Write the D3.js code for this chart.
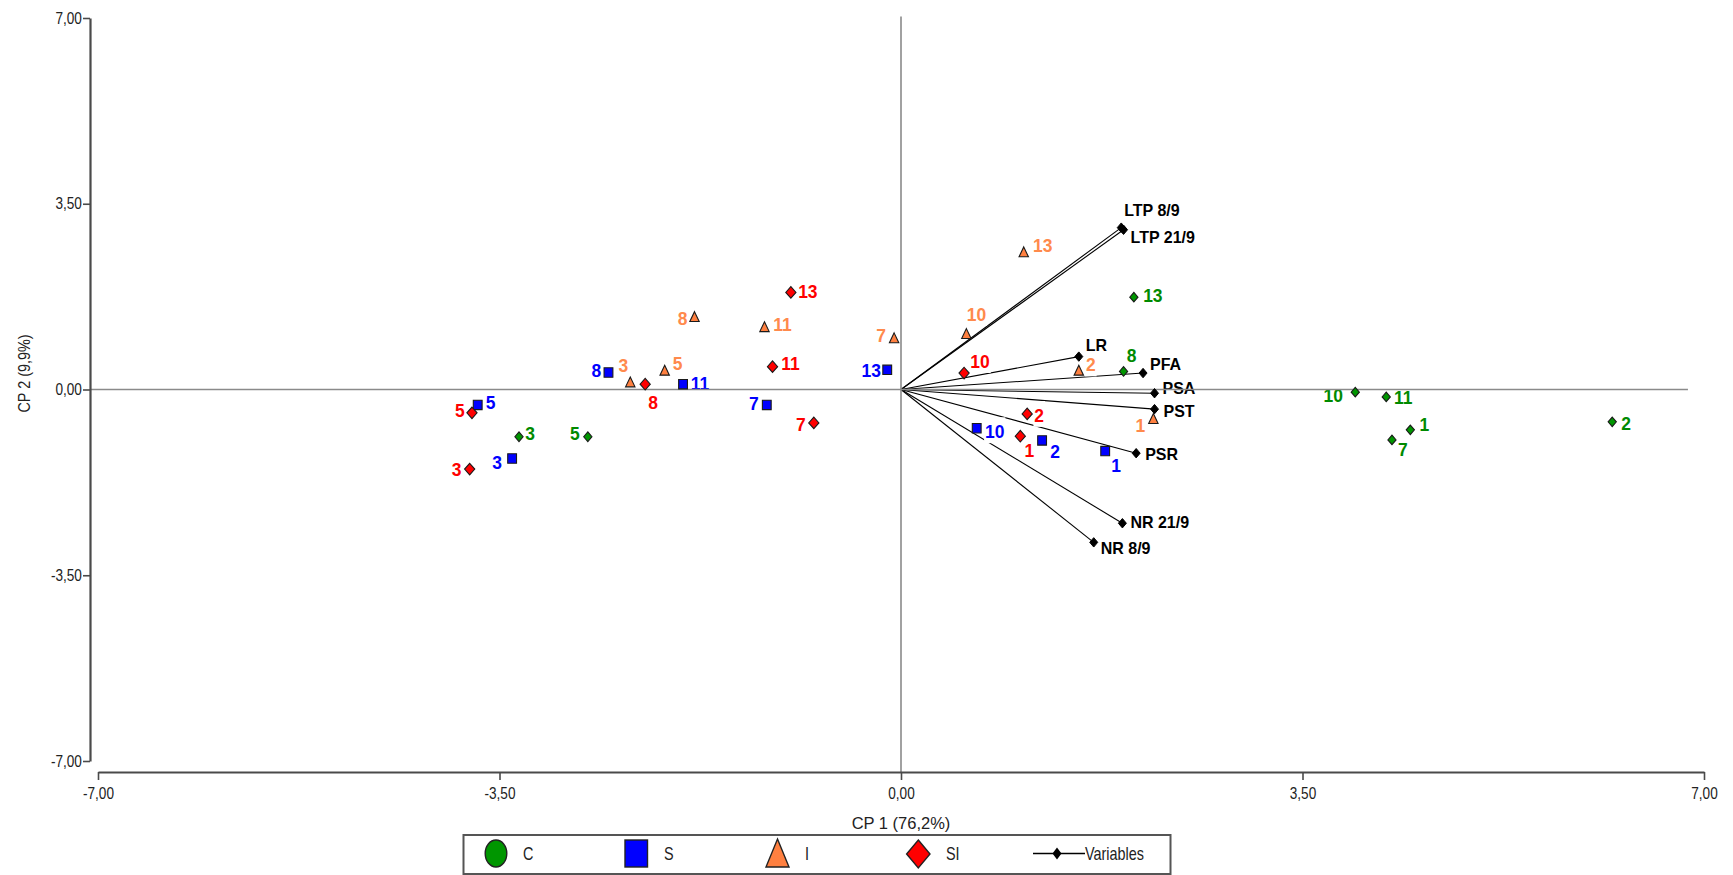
<!DOCTYPE html>
<html><head><meta charset="utf-8">
<script src="https://cdn.jsdelivr.net/npm/d3@7"></script>
<style>
html,body{margin:0;padding:0;background:#fff;}
svg{display:block;font-family:"Liberation Sans",Arial,sans-serif;}
</style>
</head><body>
<svg id="chart" width="1733" height="875"></svg>
<script>
// ---- data: principal component scores (CP 1, CP 2) ----
const sampleIds = [1, 2, 3, 5, 7, 8, 10, 11, 13];
const treatments = ["C", "S", "I", "SI"];

const cp1C  = [4.44, 6.20, -3.33, -2.73, 4.28, 1.94, 3.96, 4.23, 2.03];
const cp2C  = [-0.76, -0.61, -0.89, -0.89, -0.95, 0.34, -0.05, -0.14, 1.74];
const cp1S  = [1.78, 1.23, -3.39, -3.69, -1.17, -2.55, 0.66, -1.90, -0.12];
const cp2S  = [-1.16, -0.96, -1.30, -0.29, -0.29, 0.32, -0.73, 0.10, 0.37];
const cp1I  = [2.20, 1.55, -2.36, -2.06, -0.06, -1.80, 0.57, -1.19, 1.07];
const cp2I  = [-0.57, 0.34, 0.12, 0.34, 0.95, 1.35, 1.03, 1.16, 2.57];
const cp1SI = [1.04, 1.10, -3.76, -3.74, -0.76, -2.23, 0.55, -1.12, -0.96];
const cp2SI = [-0.88, -0.46, -1.50, -0.44, -0.63, 0.10, 0.31, 0.43, 1.83];

// variable loadings (biplot vectors)
const variableNames = ["LTP 8/9", "LTP 21/9", "LR", "PFA", "PSA", "PST", "PSR", "NR 21/9", "NR 8/9"];
const variableCP1 = [1.92, 1.94, 1.55, 2.11, 2.21, 2.21, 2.05, 1.93, 1.68];
const variableCP2 = [3.05, 3.01, 0.62, 0.31, -0.07, -0.37, -1.20, -2.52, -2.88];

const axisTicks = [-7, -3.5, 0, 3.5, 7];
const xTitle = "CP 1 (76,2%)";
const yTitle = "CP 2 (9,9%)";
const variablesLabel = "Variables";

// ---- layout ----
const svg = d3.select("#chart");
const x = d3.scaleLinear().domain([-7, 7]).range([98, 1704]);
const y = d3.scaleLinear().domain([-7, 7]).range([761, 18]);
const yAxisX = 90, xAxisY = 772;

const locale = d3.formatLocale({decimal: ",", thousands: ".", grouping: [3], currency: ["", ""], minus: "-"});
const fmt = locale.format(".2f");

const style = {
  C:  {fill: "#009600", text: "#008a00", shape: "diamondS"},
  S:  {fill: "#0000ff", text: "#0000ff", shape: "square"},
  I:  {fill: "#ff8040", text: "#ff8a4c", shape: "triangle"},
  SI: {fill: "#ff0000", text: "#ff0000", shape: "diamondL"}
};

// label nudges (px from marker centre), in sampleIds order
const labelNudge = {
  C:  [[14,-6],[14,1],[11,-3],[-13,-3],[11,9],[8,-16],[-22,3],[17,0],[19,-2]],
  S:  [[11,14],[13,11],[-15,4],[13,-3],[-13,-2],[-12,-2],[18,3],[17,-1],[-16,0]],
  I:  [[-13,5],[12,-7],[-7,-18],[13,-8],[-13,-4],[-12,0],[10,-21],[18,-4],[19,-8]],
  SI: [[9,14],[12,1],[-13,0],[-12,-3],[-13,1],[8,18],[16,-12],[18,-3],[17,-1]]
};
const variableNudge = [[3,-18],[7,7],[7,-12],[7,-9],[8,-5],[9,2],[9,1],[8,-1],[7,6]];

const scores = {
  C:  sampleIds.map((id, i) => ({id, g: "C",  cp1: cp1C[i],  cp2: cp2C[i],  n: labelNudge.C[i]})),
  S:  sampleIds.map((id, i) => ({id, g: "S",  cp1: cp1S[i],  cp2: cp2S[i],  n: labelNudge.S[i]})),
  I:  sampleIds.map((id, i) => ({id, g: "I",  cp1: cp1I[i],  cp2: cp2I[i],  n: labelNudge.I[i]})),
  SI: sampleIds.map((id, i) => ({id, g: "SI", cp1: cp1SI[i], cp2: cp2SI[i], n: labelNudge.SI[i]}))
};
const allPoints = treatments.flatMap(t => scores[t]);
const variables = variableNames.map((name, i) => ({name, cp1: variableCP1[i], cp2: variableCP2[i], n: variableNudge[i]}));

function shapePath(shape) {
  if (shape === "diamondS") return "M0,-4.8L4.1,0L0,4.8L-4.1,0Z";
  if (shape === "diamondL") return "M0,-5.8L5.1,0L0,5.8L-5.1,0Z";
  if (shape === "diamondV") return "M0,-4.7L4,0L0,4.7L-4,0Z";
  if (shape === "square")   return "M-4.4,-4.7H4.4V4.7H-4.4Z";
  if (shape === "triangle") return "M0,-6.2L4.7,3.7H-4.7Z";
  return "";
}

// text helper: horizontally condensed glyphs
function addText(parent, tx, ty, str, o) {
  const g = parent.append("g").attr("transform", `translate(${tx},${ty}) scale(${o.sx || 1},1)`);
  const t = g.append("text")
    .attr("x", 0).attr("y", 0)
    .attr("text-anchor", o.anchor || "start")
    .attr("dominant-baseline", "central")
    .attr("font-size", o.size)
    .attr("font-weight", o.weight || "normal")
    .attr("fill", o.fill || "#000")
    .text(str);
  if (o.bg) {
    const b = t.node().getBBox();
    g.insert("rect", "text")
      .attr("x", b.x - 1).attr("y", b.y - 3)
      .attr("width", b.width + 2).attr("height", b.height + 4)
      .attr("fill", "#fff");
  }
  return g;
}

// ---- biplot vectors ----
const vecLayer = svg.append("g");
vecLayer.selectAll("line").data(variables).join("line")
  .attr("x1", x(0)).attr("y1", y(0))
  .attr("x2", d => x(d.cp1)).attr("y2", d => y(d.cp2))
  .attr("stroke", "#000").attr("stroke-width", 1.1);

// ---- point labels with white backing ----
const labelLayer = svg.append("g");
allPoints.forEach(p => {
  addText(labelLayer, x(p.cp1) + p.n[0], y(p.cp2) + p.n[1], String(p.id),
    {size: 19, weight: "bold", fill: style[p.g].text, anchor: "middle", sx: 0.92, bg: true});
});
variables.forEach(v => {
  addText(labelLayer, x(v.cp1) + v.n[0], y(v.cp2) + v.n[1], v.name,
    {size: 16.5, weight: "bold", fill: "#000", anchor: "start", sx: 0.97});
});

// ---- reference lines through the origin ----
svg.append("line")
  .attr("x1", yAxisX).attr("x2", x(6.86))
  .attr("y1", y(0)).attr("y2", y(0))
  .attr("stroke", "#8a8a8a").attr("stroke-width", 1.6);
svg.append("line")
  .attr("x1", x(0)).attr("x2", x(0))
  .attr("y1", y(7.03)).attr("y2", xAxisY)
  .attr("stroke", "#8a8a8a").attr("stroke-width", 1.6);

// ---- markers ----
const markerLayer = svg.append("g");
markerLayer.selectAll("path.pt").data(allPoints).join("path")
  .attr("class", "pt")
  .attr("transform", d => `translate(${x(d.cp1)},${y(d.cp2)})`)
  .attr("d", d => shapePath(style[d.g].shape))
  .attr("fill", d => style[d.g].fill)
  .attr("stroke", "#1a1a1a").attr("stroke-width", 1.1);
markerLayer.selectAll("path.var").data(variables).join("path")
  .attr("class", "var")
  .attr("transform", d => `translate(${x(d.cp1)},${y(d.cp2)})`)
  .attr("d", shapePath("diamondV"))
  .attr("fill", "#000").attr("stroke", "#000").attr("stroke-width", 1);

// ---- axes ----
const axisColor = "#4a4a4a";
const gy = svg.append("g").attr("transform", `translate(${yAxisX},0)`)
  .call(d3.axisLeft(y).tickValues(axisTicks).tickFormat(fmt).tickSize(7).tickSizeOuter(0));
const gx = svg.append("g").attr("transform", `translate(0,${xAxisY})`)
  .call(d3.axisBottom(x).tickValues(axisTicks).tickFormat(fmt).tickSize(8).tickSizeOuter(0));
[gy, gx].forEach(g => {
  g.select(".domain").attr("stroke", axisColor).attr("stroke-width", 2.2);
  g.selectAll(".tick line").attr("stroke", axisColor).attr("stroke-width", 1.6);
  g.selectAll(".tick text").attr("font-size", 16).attr("fill", "#222")
    .attr("font-family", '"Liberation Sans",Arial,sans-serif');
});
gy.selectAll(".tick text").attr("x", -9.5).attr("transform", "scale(0.85,1)");
gx.selectAll(".tick text").attr("y", 16).attr("transform", "scale(0.85,1)");

// axis titles
addText(svg, x(0), 823, xTitle, {size: 16.5, fill: "#222", anchor: "middle", sx: 1});
const yt = svg.append("g").attr("transform", `translate(24,${y(0) - 16}) rotate(-90) scale(0.9,1)`);
yt.append("text").attr("text-anchor", "middle").attr("dominant-baseline", "central")
  .attr("font-size", 16).attr("fill", "#222").text(yTitle);

// ---- legend ----
const lg = svg.append("g");
lg.append("rect").attr("x", 463.5).attr("y", 835).attr("width", 707).attr("height", 39)
  .attr("fill", "#fff").attr("stroke", "#555").attr("stroke-width", 2);
const ly = 853.5;
lg.append("ellipse").attr("cx", 496).attr("cy", ly).attr("rx", 10.8).attr("ry", 13.5)
  .attr("fill", style.C.fill).attr("stroke", "#222").attr("stroke-width", 1.4);
lg.append("rect").attr("x", 625).attr("y", 840).attr("width", 22.5).attr("height", 27)
  .attr("fill", style.S.fill).attr("stroke", "#222").attr("stroke-width", 1.4);
lg.append("path").attr("d", "M777.5,839L789,867H766Z")
  .attr("fill", style.I.fill).attr("stroke", "#222").attr("stroke-width", 1.4);
lg.append("path").attr("d", "M918.3,840L930,854L918.3,868L906.6,854Z")
  .attr("fill", style.SI.fill).attr("stroke", "#222").attr("stroke-width", 1.4);
lg.append("line").attr("x1", 1033).attr("x2", 1085).attr("y1", ly).attr("y2", ly)
  .attr("stroke", "#000").attr("stroke-width", 1.4);
lg.append("path").attr("transform", `translate(1057,${ly})`).attr("d", "M0,-6L4.5,0L0,6L-4.5,0Z")
  .attr("fill", "#000");
const legendLabels = [[treatments[0], 523], [treatments[1], 664], [treatments[2], 805], [treatments[3], 946], [variablesLabel, 1085]];
legendLabels.forEach(([t, lx]) => addText(lg, lx, ly, t, {size: 18, fill: "#222", anchor: "start", sx: 0.8}));
</script>
</body></html>
